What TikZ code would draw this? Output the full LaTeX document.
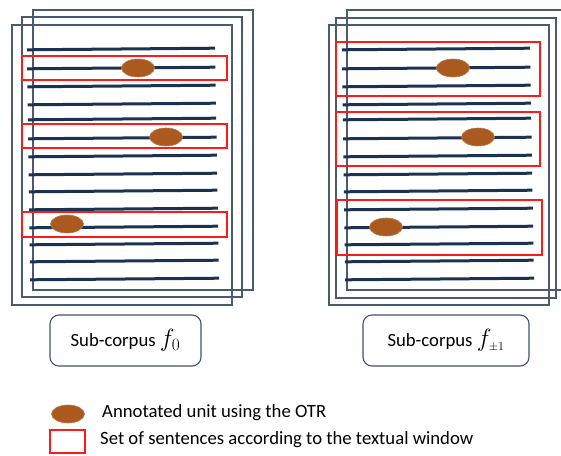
\documentclass[tikz,border=0pt]{standalone}
\usepackage{fontspec}
\setmainfont{Carlito}
\usetikzlibrary{shapes.geometric}
\definecolor{navy}{HTML}{1B3350}
\definecolor{pageframe}{HTML}{4A5A70}
\definecolor{winred}{HTML}{FF1A1A}
\definecolor{unitbrown}{HTML}{AA5A1E}
\definecolor{boxframe}{HTML}{3E5470}
\tikzset{
  pageframe/.style={draw=pageframe, line width=1.1pt},
  txtline/.style={draw=navy, line width=3pt},
  window/.style={draw=winred, line width=2pt, fill=none},
  unit/.style={ellipse, fill=unitbrown, draw=unitbrown!80!white, line width=0.6pt, minimum width=33pt, minimum height=18pt, inner sep=0pt},
  subbox/.style={draw=boxframe, line width=1.1pt, rounded corners=9pt, minimum height=51pt, inner sep=0pt, font=\fontsize{18.7}{22}\selectfont},
  legtext/.style={anchor=west, inner sep=0pt, font=\fontsize{18.7}{22}\selectfont}
}
\begin{document}
\begin{tikzpicture}[x=1pt,y=-1pt]
\useasboundingbox[fill=white] (0,0) rectangle (561,455);
% left document pages
\draw[pageframe] (33,10) rectangle (253,290);
\draw[pageframe] (22,17) rectangle (242,297);
\draw[pageframe] (12,25) rectangle (232,305);
% right document pages
\draw[pageframe] (347,10) rectangle (567,290);
\draw[pageframe] (336,18) rectangle (556,298);
\draw[pageframe] (329,25) rectangle (549,305);
% text lines
\foreach \y [count=\i from 0] in {49,68,86,104,119,138,156,174,191,209,227,244,261,279} {
  \draw[txtline] ({27+3*\i/13},{\y+0.8}) -- ({215+4*\i/13},{\y-0.8});
  \draw[txtline] ({342+3*\i/13},{\y+0.8}) -- ({530+4*\i/13},{\y-0.8});
}
% annotated units
\node[unit] (ul1) at (138,68) {};
\node[unit] (ul2) at (166,137) {};
\node[unit] (ul3) at (67,224) {};
\node[unit] (ur1) at (453,68) {};
\node[unit] (ur2) at (478,137) {};
\node[unit] (ur3) at (386,227) {};
% textual windows
\draw[window] (22,56) rectangle (227,80);
\draw[window] (22,124) rectangle (227,148);
\draw[window] (22,212) rectangle (227,237);
\draw[window] (336,42) rectangle (540,96);
\draw[window] (336,112) rectangle (540,166);
\draw[window] (337,200) rectangle (542,255);
% sub-corpus labels
\node[subbox, minimum width=151pt] (s0) at (125.5,340.5) {Sub-corpus {\fontsize{26}{26}\selectfont$f_{0}$}};
\node[subbox, minimum width=166pt] (s1) at (446,340.5) {Sub-corpus {\fontsize{26}{26}\selectfont$f_{\scriptscriptstyle\pm1}$}};
% legend
\node[unit] (legunit) at (68,414) {};
\node[legtext] (legunittext) at (102,413) {Annotated unit using the OTR};
\node[draw=winred, line width=2pt, minimum width=35pt, minimum height=23pt, inner sep=0pt] (legwin) at (67.5,441.5) {};
\node[legtext] (legwintext) at (100,440) {Set of sentences according to the textual window};
\end{tikzpicture}
\end{document}
